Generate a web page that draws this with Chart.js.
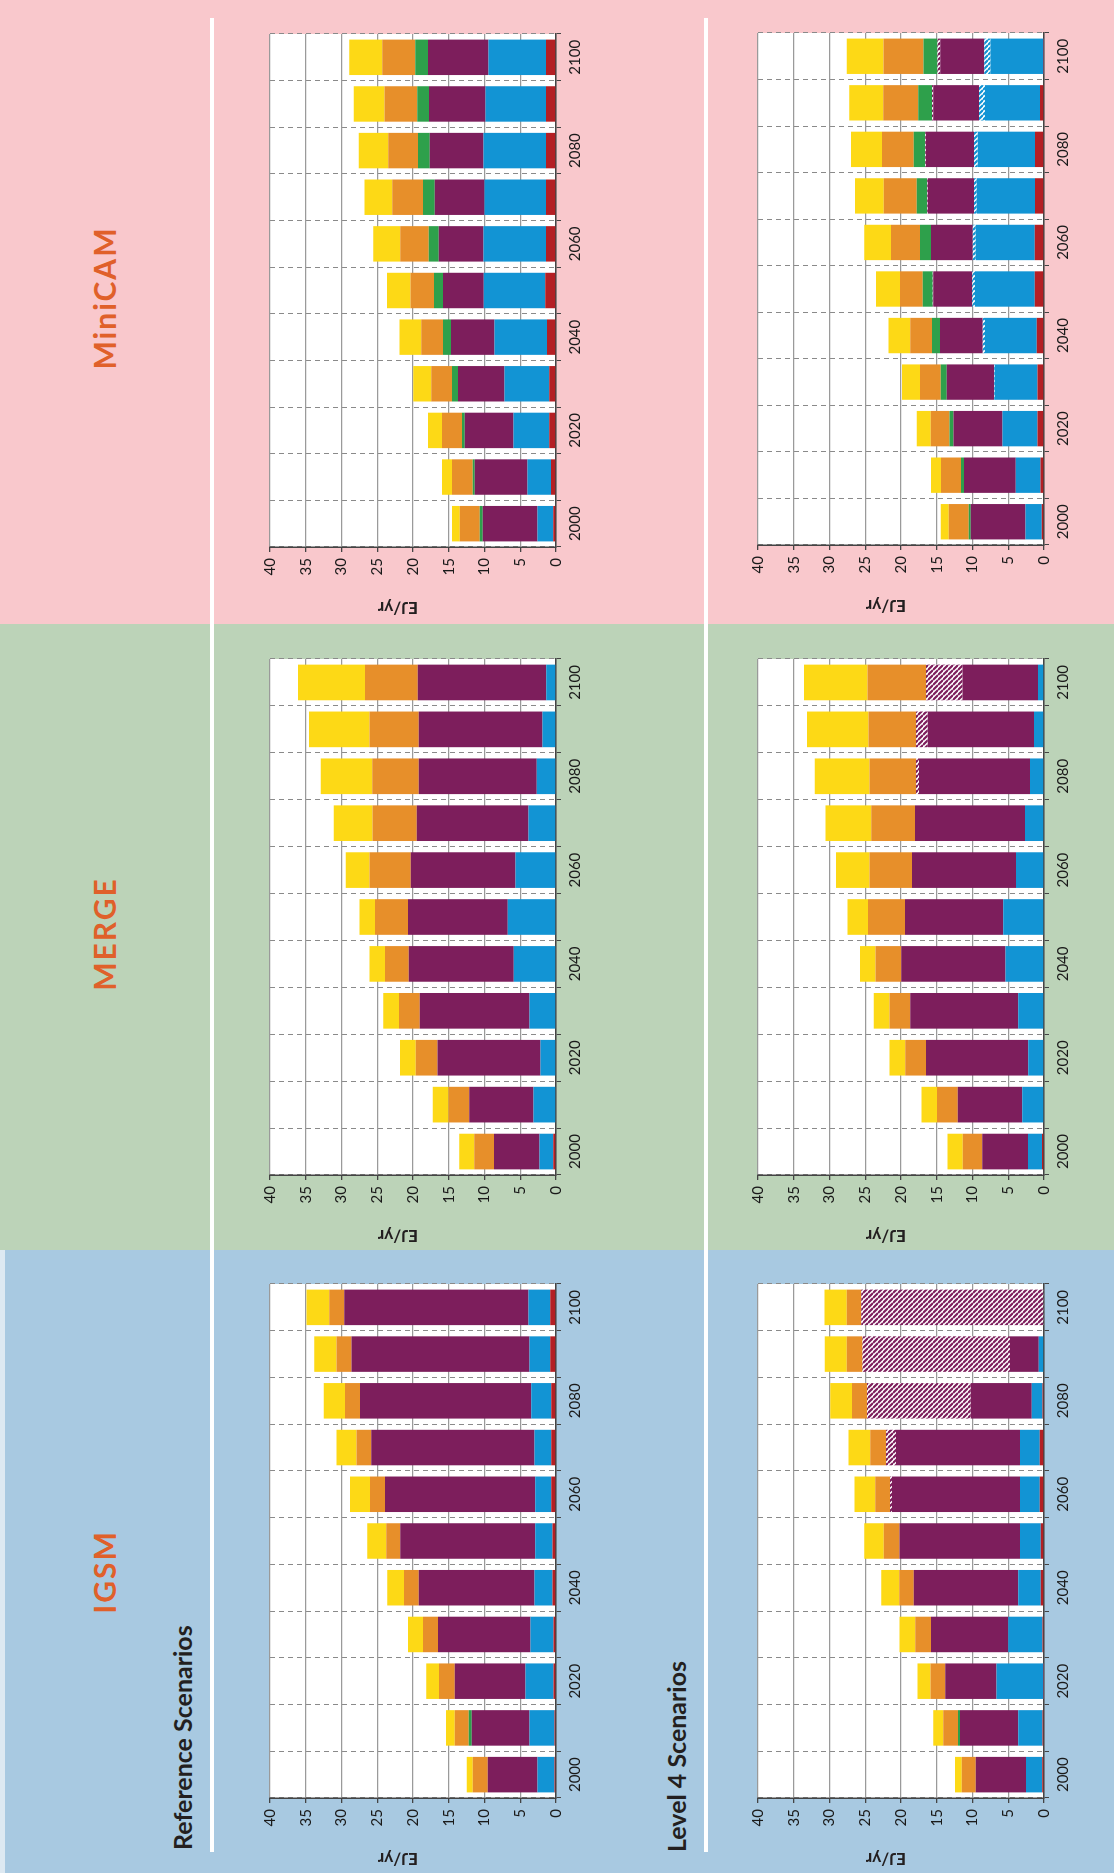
<!DOCTYPE html>
<html>
<head>
<meta charset="utf-8">
<script src="https://cdn.jsdelivr.net/npm/chart.js@4.4.1/dist/chart.umd.min.js"></script>
<style>
  html, body { margin:0; padding:0; width:1114px; height:1873px; overflow:hidden; background:#fff; }
  #sheet { position:absolute; left:0; top:0; width:1873px; height:1114px;
           transform-origin:0 0; transform:translate(0,1873px) rotate(-90deg); font-family:Lato, "Open Sans", sans-serif; }
  .panel { position:absolute; top:0; height:1114px; }
  .rule { position:absolute; height:4px; background:#fff; left:21px; width:1834px; }
  .model { position:absolute; color:#e0602a; font-weight:bold; font-size:30px; letter-spacing:2px; transform:translate(-50%,-50%); white-space:nowrap; }
  .row { position:absolute; color:#231f20; font-weight:bold; font-size:25px; line-height:30px; white-space:nowrap; }
  canvas { position:absolute; }
</style>
</head>
<body>
<div id="sheet">
  <div class="panel" style="left:0;width:623px;background:#a8c9e1"></div>
  <div class="panel" style="left:623px;width:626px;background:#bcd3b8"></div>
  <div class="panel" style="left:1249px;width:624px;background:#f9c8cc"></div>
  <div style="position:absolute;left:0;top:0;width:623px;height:5px;background:#dde9f2"></div>
  <div class="rule" style="top:210px"></div>
  <div class="rule" style="top:704px"></div>
  <div class="model" style="left:301px;top:104px">IGSM</div>
  <div class="model" style="left:939px;top:104px">MERGE</div>
  <div class="model" style="left:1575px;top:104px">MiniCAM</div>
  <div class="row" style="left:23px;top:167px">Reference Scenarios</div>
  <div class="row" style="left:21px;top:661px">Level 4 Scenarios</div>
</div>
<script>
const years = ['2000','2010','2020','2030','2040','2050','2060','2070','2080','2090','2100'];
const yTicks = [0,5,10,15,20,25,30,35,40];
const yTitle = 'EJ/yr';

// IGSM reference
const igsmRefRed    = [0.2,0.2,0.35,0.35,0.5,0.5,0.65,0.65,0.65,0.8,0.8];
const igsmRefBlue   = [2.4,3.5,3.9,3.2,2.5,2.4,2.25,2.35,2.8,2.9,3.05];
const igsmRefPurple = [6.95,8.1,9.9,12.95,16.2,18.9,21.0,22.85,23.95,24.9,25.75];
const igsmRefGreen  = [0,0.4,0,0,0,0,0,0,0,0,0];
const igsmRefOrange = [2.1,1.95,2.2,2.1,2.05,1.95,2.1,2.05,2.1,2.1,2.1];
const igsmRefYellow = [0.85,1.25,1.8,2.1,2.35,2.65,2.8,2.8,3.0,3.1,3.2];

// IGSM level 4
const igsmL4Red     = [0.23,0.2,0.05,0.2,0.45,0.45,0.6,0.6,0.2,0,0];
const igsmL4Blue    = [2.3,3.4,6.6,4.8,3.15,2.9,2.75,2.75,1.5,0.75,0];
const igsmL4Purple  = [7.03,8.15,7.17,10.8,14.6,16.85,17.9,17.35,8.55,4.0,0];
const igsmL4PurpleCcs = [0,0,0,0,0,0,0.3,1.4,14.5,20.65,25.55];
const igsmL4Green   = [0,0.28,0,0,0,0,0,0,0,0,0];
const igsmL4Orange  = [1.94,2.05,2.07,2.2,2.05,2.2,2.05,2.2,2.1,2.2,2.05];
const igsmL4Yellow  = [0.96,1.4,1.8,2.2,2.5,2.75,2.9,3.05,3.05,3.05,3.1];

// MERGE reference
const mergeRefRed    = [0.37,0,0,0,0,0,0,0,0,0,0];
const mergeRefBlue   = [1.93,3.14,2.17,3.7,5.9,6.75,5.65,3.83,2.7,1.9,1.35];
const mergeRefPurple = [6.37,9.0,14.4,15.35,14.7,13.95,14.65,15.65,16.5,17.3,18.0];
const mergeRefOrange = [2.77,2.9,3.05,2.9,3.3,4.6,5.8,6.2,6.5,6.9,7.35];
const mergeRefYellow = [2.08,2.2,2.2,2.2,2.2,2.2,3.3,5.4,7.2,8.45,9.4];

// MERGE level 4
const mergeL4Red     = [0.28,0,0,0,0,0,0,0,0,0,0];
const mergeL4Blue    = [1.95,3.05,2.2,3.6,5.4,5.7,3.9,2.65,1.95,1.4,0.85];
const mergeL4Purple  = [6.4,9.0,14.3,15.1,14.55,13.75,14.55,15.4,15.55,14.85,10.55];
const mergeL4PurpleCcs = [0,0,0,0,0,0,0,0,0.4,1.65,5.1];
const mergeL4Orange  = [2.75,2.9,2.9,2.9,3.6,5.15,5.95,6.1,6.5,6.65,8.2];
const mergeL4Yellow  = [2.1,2.2,2.2,2.2,2.2,2.9,4.7,6.4,7.65,8.6,8.85];

// MiniCAM reference
const minicamRefRed    = [0.4,0.7,0.95,0.95,1.25,1.5,1.4,1.4,1.4,1.4,1.4];
const minicamRefBlue   = [2.2,3.3,5.0,6.25,7.35,8.6,8.75,8.6,8.75,8.45,8.05];
const minicamRefPurple = [7.65,7.35,6.8,6.5,6.1,5.7,6.25,6.95,7.5,7.9,8.45];
const minicamRefGreen  = [0.4,0.3,0.4,0.85,1.1,1.25,1.4,1.65,1.65,1.65,1.8];
const minicamRefOrange = [2.8,2.9,2.8,2.9,3.05,3.3,4.0,4.3,4.15,4.6,4.6];
const minicamRefYellow = [1.1,1.4,1.95,2.5,3.05,3.3,3.75,3.9,4.15,4.3,4.6];

// MiniCAM level 4
const minicamL4Red       = [0.33,0.5,0.9,0.9,1.0,1.3,1.3,1.25,1.25,0.55,0.05];
const minicamL4Blue      = [2.25,3.45,4.9,6.0,7.25,8.35,8.25,8.15,8.0,7.7,7.45];
const minicamL4BlueCcs   = [0,0,0,0.1,0.3,0.4,0.4,0.4,0.55,0.85,0.85];
const minicamL4Purple    = [7.65,7.25,6.85,6.6,6.0,5.45,5.85,6.45,6.7,6.4,6.15];
const minicamL4PurpleCcs = [0,0,0,0,0,0.05,0,0.1,0.1,0.15,0.4];
const minicamL4Green     = [0.3,0.4,0.55,0.85,1.1,1.4,1.55,1.45,1.6,1.95,1.95];
const minicamL4Orange    = [2.8,2.8,2.65,2.9,3.05,3.2,4.05,4.6,4.45,4.9,5.6];
const minicamL4Yellow    = [1.1,1.4,1.95,2.5,3.05,3.35,3.75,4.05,4.35,4.75,5.15];

const C = { red:'#b41f24', blue:'#1294d4', purple:'#7d1e5c', green:'#2ea04b', orange:'#e78f2a', yellow:'#fdd916' };

function hatch(color){
  const c = document.createElement('canvas'); c.width = c.height = 5;
  const g = c.getContext('2d');
  g.fillStyle = '#fff'; g.fillRect(0,0,5,5);
  g.strokeStyle = color; g.lineWidth = 2.2; g.beginPath();
  for (let k=-5;k<=10;k+=5){ g.moveTo(k,0); g.lineTo(k+5,5); }
  g.stroke();
  return g.createPattern(c,'repeat');
}
const Z = years.map(()=>0);

// white plot area behind the grid, axis title sits a bit above centre
const plotBg = {
  id:'plotBg',
  beforeDraw(chart){
    const a = chart.chartArea, ctx = chart.ctx;
    ctx.save(); ctx.fillStyle = '#fff';
    ctx.fillRect(a.left, a.top, a.right - a.left, a.bottom - a.top);
    ctx.restore();
  },
  afterDraw(chart){
    const a = chart.chartArea, ctx = chart.ctx;
    ctx.save();
    ctx.translate(a.left - 60, (a.top + a.bottom)/2 - 15);
    ctx.rotate(-Math.PI/2);
    ctx.fillStyle = '#231f20'; ctx.font = 'bold 17px Lato';
    ctx.textAlign = 'center'; ctx.textBaseline = 'middle';
    ctx.fillText(yTitle, 0, 0);
    ctx.restore();
  }
};

// stacking order from zero upwards
function stack(s){
  return [
    {data:s.red||Z, backgroundColor:C.red},
    {data:s.blue||Z, backgroundColor:C.blue},
    {data:s.blueCcs||Z, backgroundColor:hatch(C.blue)},
    {data:s.purple||Z, backgroundColor:C.purple},
    {data:s.purpleCcs||Z, backgroundColor:hatch(C.purple)},
    {data:s.green||Z, backgroundColor:C.green},
    {data:s.orange||Z, backgroundColor:C.orange},
    {data:s.yellow||Z, backgroundColor:C.yellow}
  ].map(d=>Object.assign(d,{barPercentage:0.76, categoryPercentage:1, borderWidth:0}));
}

function makeChart(x0, x1, y0, y1, series){
  const cv = document.createElement('canvas');
  const L = 70, T = 12, R = 12, B = 36;
  cv.width = x1 - x0 + L + R; cv.height = y1 - y0 + T + B;
  cv.style.left = (x0 - L) + 'px'; cv.style.top = (y0 - T) + 'px';
  document.getElementById('sheet').appendChild(cv);
  new Chart(cv.getContext('2d'), {
    type:'bar',
    data:{ labels:years, datasets:stack(series) },
    plugins:[plotBg],
    options:{
      responsive:false, animation:false,
      layout:{ padding:{top:T, right:R, left:0, bottom:0} },
      plugins:{ legend:{display:false}, tooltip:{enabled:false} },
      scales:{
        x:{ stacked:true, offset:true,
            grid:{ offset:true, color:'#8a8a8a', lineWidth:1, tickLength:5, tickColor:'#444' },
            border:{ color:'#444', width:1.5, dash:[5,4] },
            ticks:{ autoSkip:false, maxRotation:0, color:'#1a1a1a', padding:5, font:{family:'Lato', size:15},
                    callback:(v,i)=> i%2===0 ? years[i] : '' },
            afterFit:s=>{ s.height = B; } },
        y:{ stacked:true, min:0, max:40,
            afterBuildTicks:s=>{ s.ticks = yTicks.map(v=>({value:v})); },
            grid:{ color:'#9a9a9a', lineWidth:1.3, tickLength:5, tickColor:'#444' },
            border:{ color:'#444', width:1.5 },
            ticks:{ color:'#1a1a1a', padding:6, font:{family:'Lato', size:15} },
            afterFit:s=>{ s.width = L; } }
      }
    }
  });
}

const REF = [267,556], L4 = [755,1044];
makeChart(75, 589, REF[0], REF[1], {red:igsmRefRed, blue:igsmRefBlue, purple:igsmRefPurple, green:igsmRefGreen, orange:igsmRefOrange, yellow:igsmRefYellow});
makeChart(75, 589, L4[0], L4[1], {red:igsmL4Red, blue:igsmL4Blue, purple:igsmL4Purple, purpleCcs:igsmL4PurpleCcs, green:igsmL4Green, orange:igsmL4Orange, yellow:igsmL4Yellow});
makeChart(698, 1214, REF[0], REF[1], {red:mergeRefRed, blue:mergeRefBlue, purple:mergeRefPurple, orange:mergeRefOrange, yellow:mergeRefYellow});
makeChart(698, 1214, L4[0], L4[1], {red:mergeL4Red, blue:mergeL4Blue, purple:mergeL4Purple, purpleCcs:mergeL4PurpleCcs, orange:mergeL4Orange, yellow:mergeL4Yellow});
makeChart(1326, 1839, REF[0], REF[1], {red:minicamRefRed, blue:minicamRefBlue, purple:minicamRefPurple, green:minicamRefGreen, orange:minicamRefOrange, yellow:minicamRefYellow});
makeChart(1328, 1840, L4[0], L4[1], {red:minicamL4Red, blue:minicamL4Blue, blueCcs:minicamL4BlueCcs, purple:minicamL4Purple, purpleCcs:minicamL4PurpleCcs, green:minicamL4Green, orange:minicamL4Orange, yellow:minicamL4Yellow});
</script>
</body>
</html>
